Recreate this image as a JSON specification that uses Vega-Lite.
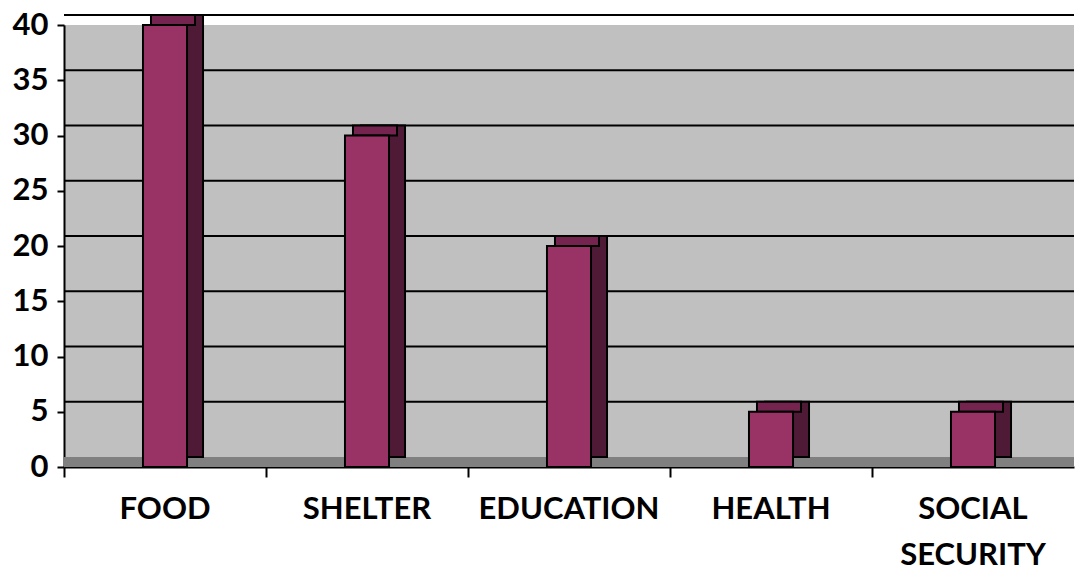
{
  "$schema": "https://vega.github.io/schema/vega-lite/v6.json",
  "autosize": {"type": "none"},
  "padding": {"left": 64, "top": 25, "right": 16, "bottom": 110},
  "width": 1010,
  "height": 442,
  "background": "white",
  "config": {
    "view": {"fill": "#c0c0c0", "stroke": null},
    "font": "Lato"
  },
  "datasets": {
    "bars": [
      {"category": "FOOD", "value": 40},
      {"category": "SHELTER", "value": 30},
      {"category": "EDUCATION", "value": 20},
      {"category": "HEALTH", "value": 5},
      {"category": "SOCIAL SECURITY", "value": 5}
    ],
    "grid": [
      {"value": 5}, {"value": 10}, {"value": 15}, {"value": 20},
      {"value": 25}, {"value": 30}, {"value": 35}, {"value": 40}
    ],
    "floor": [{"value": 0}]
  },
  "layer": [
    {
      "data": {"name": "floor"},
      "mark": {"type": "rule", "color": "#808080", "strokeWidth": 10, "yOffset": -5},
      "encoding": {
        "y": {
          "field": "value", "type": "quantitative",
          "scale": {"domain": [0, 40]},
          "axis": {
            "title": null,
            "values": [0, 5, 10, 15, 20, 25, 30, 35, 40],
            "grid": false,
            "labelFont": "Lato",
            "labelFontWeight": "bold",
            "labelFontSize": 31,
            "labelColor": "#000000",
            "labelPadding": 9,
            "domainColor": "#000000",
            "domainWidth": 2,
            "tickColor": "#000000",
            "tickWidth": 2,
            "tickSize": 7
          }
        }
      }
    },
    {
      "data": {"name": "grid"},
      "mark": {"type": "rule", "color": "#000000", "strokeWidth": 2, "yOffset": -10},
      "encoding": {
        "y": {"field": "value", "type": "quantitative"}
      }
    },
    {
      "data": {"name": "bars"},
      "layer": [
        {
          "mark": {"type": "bar", "fill": "#4f1a35", "stroke": "#000000", "strokeWidth": 2, "xOffset": 16, "yOffset": -10, "width": {"band": 0.218}},
          "encoding": {
            "x": {
              "field": "category", "type": "nominal", "sort": null,
              "scale": {"paddingInner": 0, "paddingOuter": 0},
              "axis": {
                "title": null,
                "labelAngle": 0,
                "bandPosition": 0,
                "labelExpr": "split(datum.label, ' ')",
                "labelLineHeight": 46,
                "labelLimit": 0,
                "labelFont": "Lato",
                "labelFontWeight": "bold",
                "labelFontSize": 31,
                "labelColor": "#000000",
                "labelPadding": 17,
                "labelBaseline": "top",
                "domainColor": "#000000",
                "domainWidth": 2,
                "tickColor": "#000000",
                "tickWidth": 2,
                "tickSize": 10
              }
            },
            "y": {"field": "value", "type": "quantitative"}
          }
        },
        {
          "mark": {"type": "bar", "fill": "#74244f", "stroke": "#000000", "strokeWidth": 2, "xOffset": 8, "yOffset": -10, "y2Offset": 0, "width": {"band": 0.218}},
          "encoding": {
            "x": {"field": "category", "type": "nominal", "sort": null},
            "y": {"field": "value", "type": "quantitative"},
            "y2": {"field": "value"}
          }
        },
        {
          "mark": {"type": "bar", "fill": "#993366", "stroke": "#000000", "strokeWidth": 2, "width": {"band": 0.218}},
          "encoding": {
            "x": {"field": "category", "type": "nominal", "sort": null},
            "y": {"field": "value", "type": "quantitative"}
          }
        }
      ]
    }
  ]
}
